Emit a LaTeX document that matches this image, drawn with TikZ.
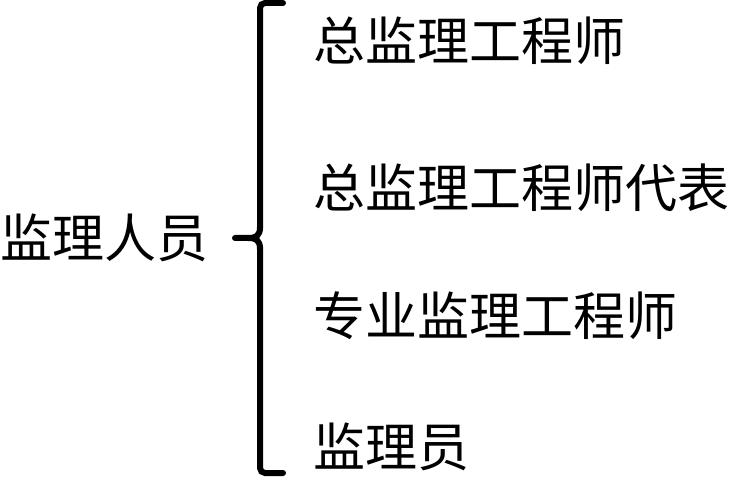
\documentclass[tikz,border=0pt]{standalone}
\usepackage{fontspec}
\setmainfont{Noto Sans CJK SC}

\begin{document}
\begin{tikzpicture}[
    x=1pt, y=1pt,
    label/.style={anchor=base west, inner sep=0pt, font=\fontsize{52}{60}\selectfont},
    brace/.style={line width=6pt, rounded corners=5pt, line cap=round}
]
\useasboundingbox (0,0) rectangle (731,477);

% Left label
\node[label] (staff) at (0,219) {监理人员};

% Items
\node[label] (chief) at (313,416) {总监理工程师};
\node[label] (deputy) at (313,269) {总监理工程师代表};
\node[label] (special) at (313,141) {专业监理工程师};
\node[label] (assist) at (313,11) {监理员};

% Brace
\coordinate (top) at (283,474);
\coordinate (tip) at (235,239);
\coordinate (bottom) at (283,4);
\draw[brace] (top) -- (260,474) -- (260,248);
\draw[line width=6pt, line cap=round] (260,250) .. controls (260,241) and (256,239) .. (248,239) -- (tip);
\draw[line width=6pt, line cap=round] (260,228) .. controls (260,237) and (256,239) .. (248,239);
\draw[brace] (260,230) -- (260,4) -- (bottom);

\end{tikzpicture}
\end{document}
